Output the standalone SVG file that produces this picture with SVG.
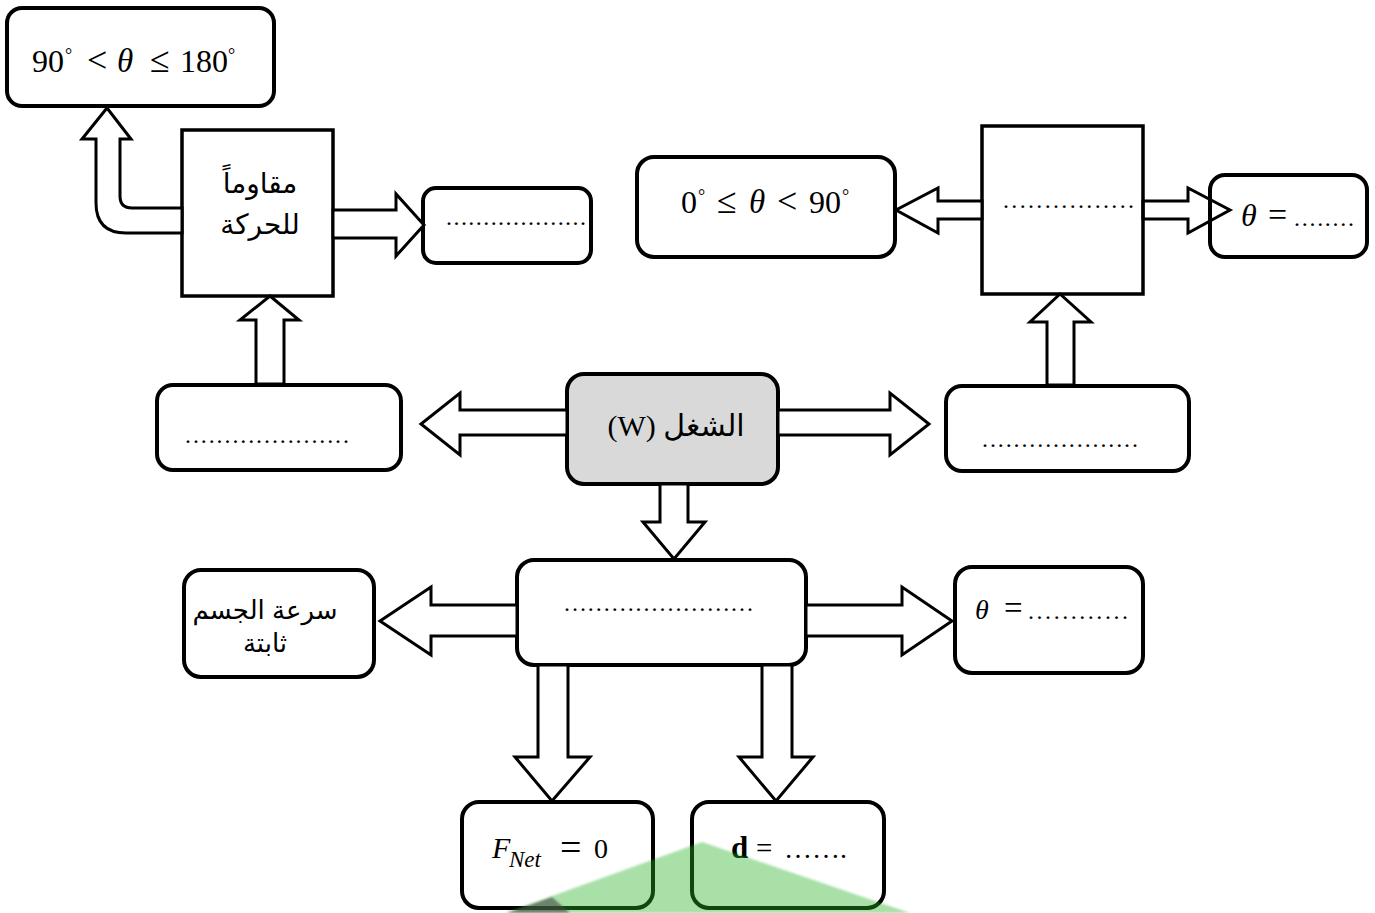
<svg xmlns="http://www.w3.org/2000/svg" width="1375" height="913" viewBox="0 0 1375 913">
<defs>
<style>
.box{fill:#fff;stroke:#000;stroke-width:4}
.rect{fill:#fff;stroke:#000;stroke-width:3.5}
.gray{fill:#d9d9d9;stroke:#000;stroke-width:4}
.arrow{fill:#fff;stroke:#000;stroke-width:3;stroke-linejoin:miter}
.m{font-family:"Liberation Serif","DejaVu Serif",serif;font-size:32px;fill:#000}
.op{font-size:36px}
.it{font-style:italic}
.deg{font-family:"Liberation Serif",serif;font-size:18px}
.dots{font-family:"Liberation Serif",serif;font-size:24px}
.ar{font-family:"Liberation Sans","DejaVu Sans",sans-serif;font-size:28px;text-anchor:middle;direction:rtl}
</style>
<filter id="blur" x="-10%" y="-10%" width="120%" height="120%"><feGaussianBlur stdDeviation="1.2"/></filter>
</defs>
<rect width="1375" height="913" fill="#fff"/>

<g id="node-obtuse">
<rect class="box" x="7" y="8" width="267" height="98" rx="15"/>
<text class="m" x="32" y="72">90</text>
<text class="m deg" x="65" y="61">°</text>
<text class="m op" x="87" y="72">&lt;</text>
<text class="m it" style="font-size:33px" x="117" y="72">θ</text>
<text class="m op" x="150" y="72">≤</text>
<text class="m" x="180" y="72">180</text>
<text class="m deg" x="228" y="61">°</text>
</g>

<g id="node-resist">
<rect class="rect" x="182" y="130" width="151" height="166"/>
<text class="ar" x="260" y="193">مقاوماً</text>
<text class="ar" x="260" y="234">للحركة</text>
</g>

<g id="node-resist-value">
<rect class="box" x="423" y="188" width="168" height="75" rx="13"/>
<text class="dots" x="446" y="225" textLength="140" lengthAdjust="spacing">...................</text>
</g>

<g id="node-left">
<rect class="box" x="157" y="385" width="244" height="85" rx="16"/>
<text class="dots" x="185" y="443" textLength="164" lengthAdjust="spacing">.....................</text>
</g>

<g id="node-work">
<rect class="gray" x="567" y="374" width="211" height="110" rx="17"/>
<text class="ar" style="font-family:'Liberation Serif','DejaVu Sans',serif;font-size:30px" x="676" y="436">الشغل (W)</text>
</g>

<g id="node-right">
<rect class="box" x="946" y="386" width="243" height="85" rx="16"/>
<text class="dots" x="982" y="447" textLength="156" lengthAdjust="spacing">....................</text>
</g>

<g id="node-help">
<rect class="rect" x="982" y="126" width="161" height="168"/>
<text class="dots" x="1003" y="208" textLength="131" lengthAdjust="spacing">................</text>
</g>

<g id="node-acute">
<rect class="box" x="637" y="157" width="258" height="100" rx="17"/>
<text class="m" x="681" y="213">0</text>
<text class="m deg" x="698" y="202">°</text>
<text class="m op" x="717" y="213">≤</text>
<text class="m it" style="font-size:33px" x="749" y="213">θ</text>
<text class="m op" x="777" y="213">&lt;</text>
<text class="m" x="809" y="213">90</text>
<text class="m deg" x="842" y="202">°</text>
</g>

<g id="node-theta-top">
<rect class="box" x="1210" y="175" width="157" height="82" rx="15"/>
<text class="m it" style="font-size:32px" x="1241" y="226">θ</text>
<text class="m" style="font-size:34px" x="1268" y="226">=</text>
<text class="dots" x="1294" y="226" textLength="60" lengthAdjust="spacing">........</text>
</g>

<g id="node-middle">
<rect class="box" x="517" y="560" width="289" height="105" rx="17"/>
<text class="dots" x="564" y="611" textLength="189" lengthAdjust="spacing">........................</text>
</g>

<g id="node-speed">
<rect class="box" x="184" y="570" width="190" height="107" rx="17"/>
<text class="ar" style="font-size:26px" x="265" y="619">سرعة الجسم</text>
<text class="ar" style="font-size:26px" x="265" y="652">ثابتة</text>
</g>

<g id="node-theta-mid">
<rect class="box" x="955" y="567" width="188" height="106" rx="17"/>
<text class="m it" style="font-size:28px" x="975" y="619">θ</text>
<text class="m" style="font-size:33px" x="1004" y="619">=</text>
<text class="dots" x="1028" y="619" textLength="100" lengthAdjust="spacing">............</text>
</g>

<g id="node-fnet">
<rect class="box" x="462" y="802" width="191" height="106" rx="17"/>
<text class="m it" style="font-size:30px" x="492" y="858">F</text>
<text class="m it" style="font-size:23px" x="509" y="867">Net</text>
<text class="m" style="font-size:38px" x="560" y="860">=</text>
<text class="m" style="font-size:28px" x="594" y="858">0</text>
</g>

<g id="node-d">
<rect class="box" x="692" y="802" width="192" height="106" rx="17"/>
<text class="m" style="font-size:31px;font-weight:bold" x="731" y="858">d</text>
<text class="m" style="font-size:29px" x="756" y="858">=</text>
<text class="m" style="font-size:28px" x="784" y="858">…….</text>
</g>

<g id="connectors">
<polygon class="arrow" points="333,210 396,210 396,194 424,225 396,256 396,238 333,238"/>
<path class="arrow" d="M182,208 L132,208 Q120,208 120,196 L120,139 L131,139 L107,108 L82,139 L96,139 L96,203 Q96,233 126,233 L182,233 Z"/>
<polygon class="arrow" points="256,384 256,320 240,320 270,296 299,320 284,320 284,384"/>
<polygon class="arrow" points="567,410 460,410 460,393 421,424 460,455 460,435 567,435"/>
<polygon class="arrow" points="778,410 890,410 890,393 929,424 890,455 890,435 778,435"/>
<polygon class="arrow" points="1047,385 1047,322 1030,322 1060,294 1091,322 1074,322 1074,385"/>
<polygon class="arrow" points="982,201 938,201 938,188 896,210 938,233 938,219 982,219"/>
<polygon class="arrow" style="fill:none" points="1143,201 1188,201 1188,188 1230,210 1188,233 1188,219 1143,219"/>
<polygon class="arrow" points="660,484 660,522 643,522 674,559 705,522 688,522 688,484"/>
<polygon class="arrow" points="517,605 431,605 431,587 380,621 431,655 431,636 517,636"/>
<polygon class="arrow" points="806,605 902,605 902,587 952,621 902,655 902,636 806,636"/>
<polygon class="arrow" points="538,665 538,757 515,757 552,801 590,757 568,757 568,665"/>
<polygon class="arrow" points="762,665 762,757 739,757 776,801 813,757 792,757 792,665"/>
</g>

<g id="watermark" filter="url(#blur)">
<polygon points="702,842 910,913 505,913" fill="#25b125" fill-opacity="0.4"/>
<polygon points="507,913 552,897 570,913" fill="#444" fill-opacity="0.6"/>
</g>
</svg>
